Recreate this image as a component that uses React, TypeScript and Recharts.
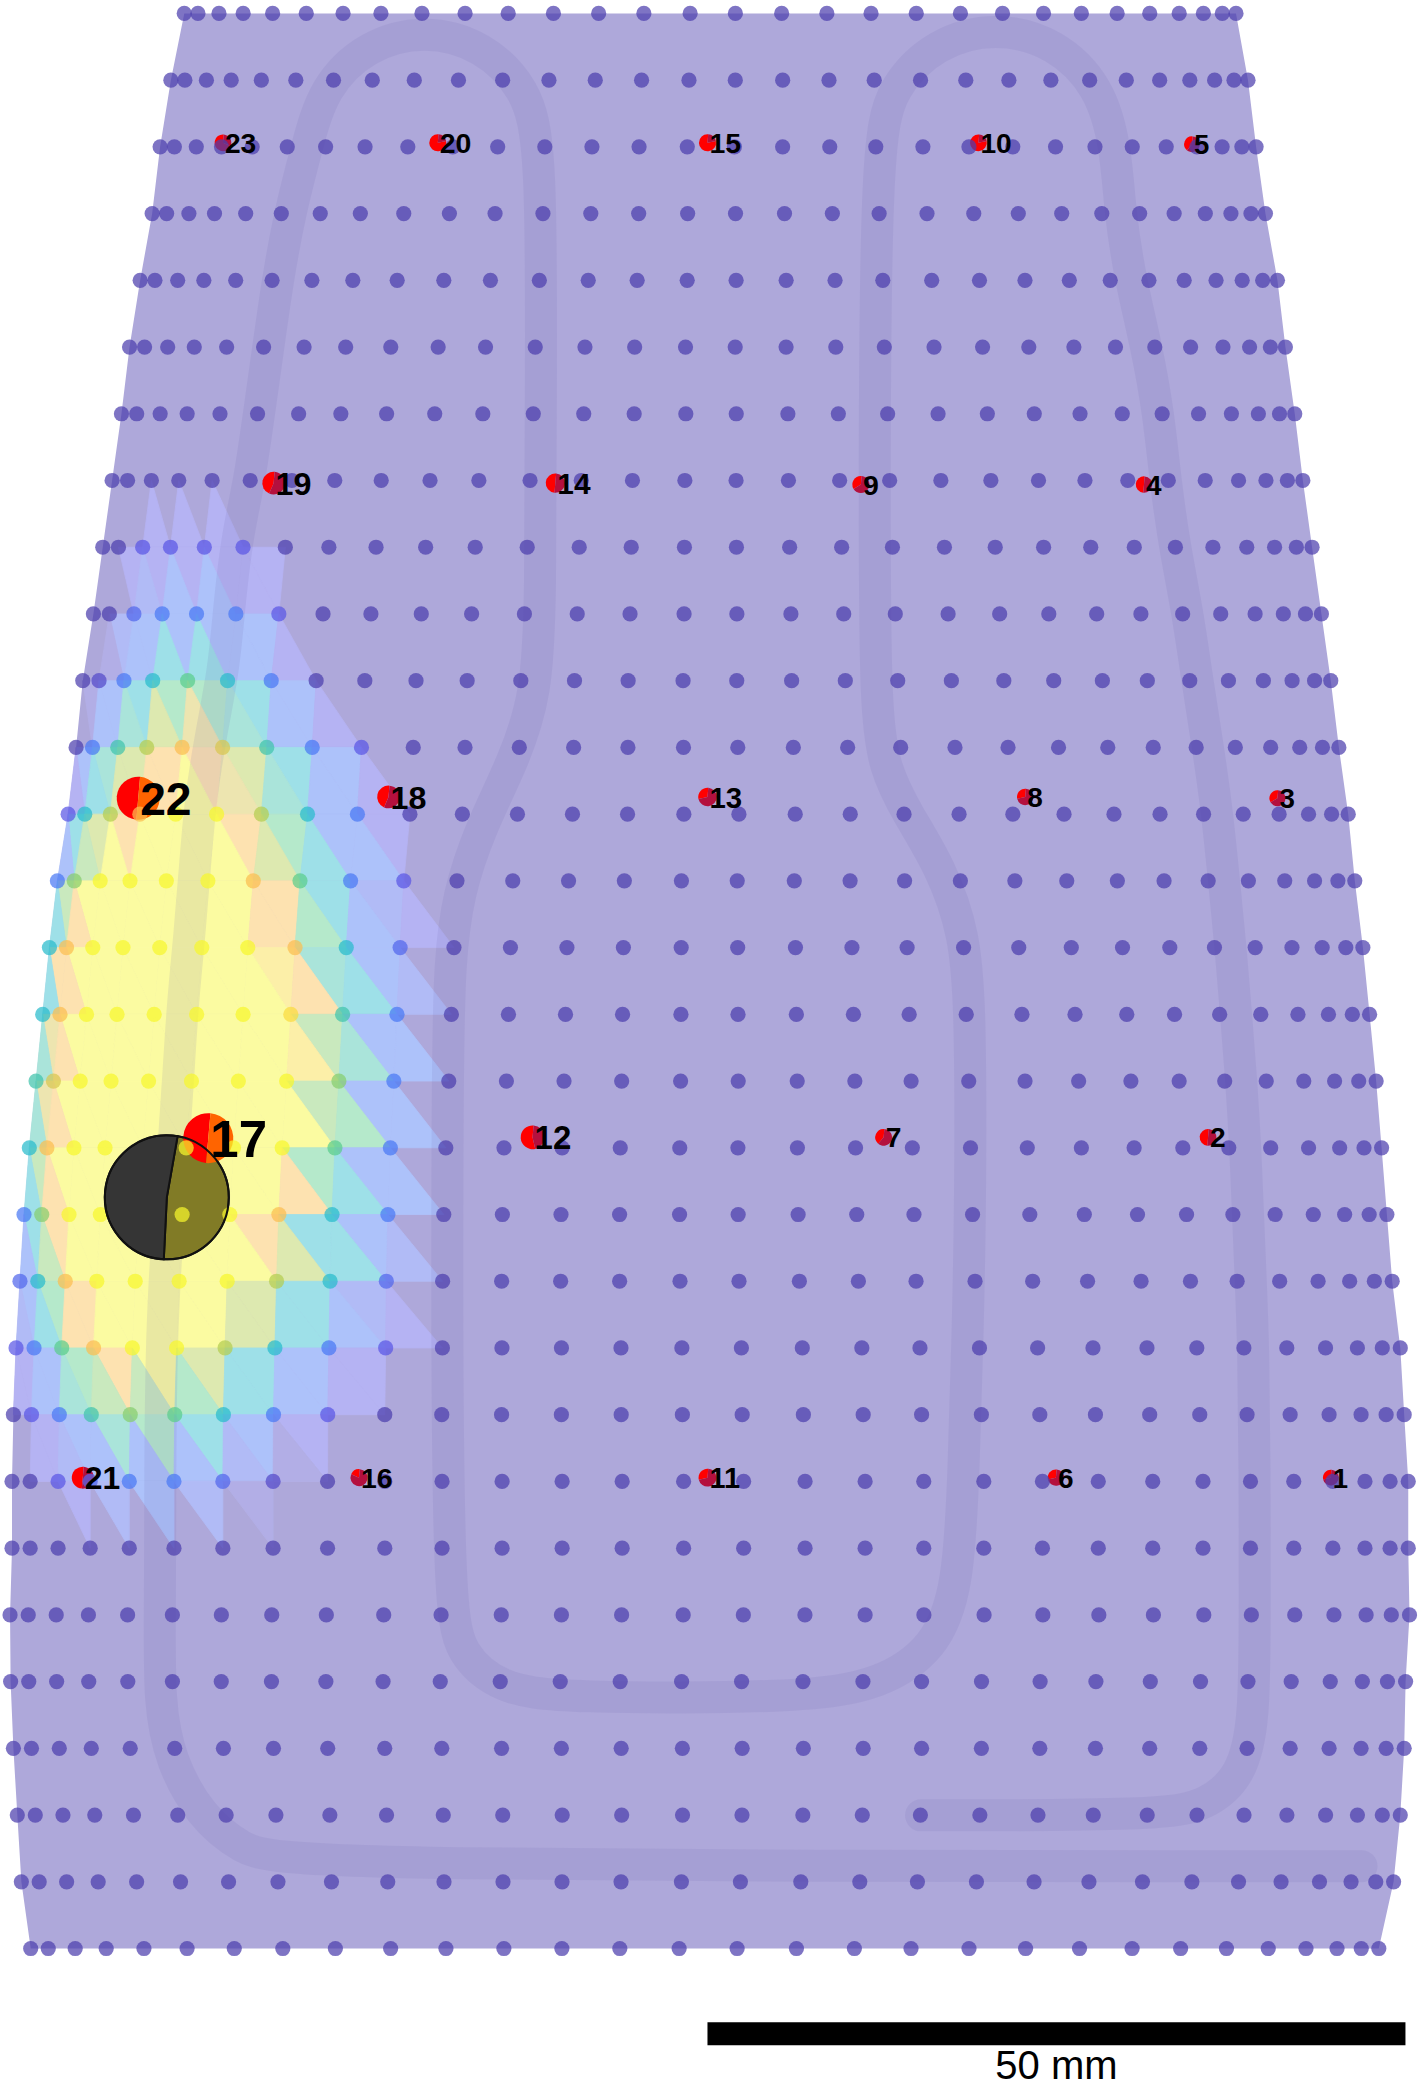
import React from "react";
import { ScatterChart, Scatter, XAxis, YAxis, Sector, Curve } from "recharts";

// picture extent in mm (scale bar = 50 mm)
const X_MAX = 101.65;
const Y_MAX = 149.93;

// mesh rows (mm from top) and their left / right ends
const ROW_Y = [0.96, 5.74, 10.52, 15.3, 20.08, 24.86, 29.64, 34.42, 39.2, 43.98, 48.76, 53.54, 58.32, 63.1, 67.88, 72.66, 77.44, 82.22, 87.0, 91.78, 96.56, 101.34, 106.12, 110.9, 115.68, 120.46, 125.24, 130.02, 134.8, 139.58];
const ROW_LEFT = [13.2, 12.24, 11.47, 10.9, 10.04, 9.28, 8.7, 8.03, 7.36, 6.69, 5.93, 5.45, 4.88, 4.11, 3.54, 3.06, 2.58, 2.1, 1.72, 1.43, 1.15, 0.96, 0.86, 0.86, 0.72, 0.76, 0.96, 1.24, 1.53, 2.2];
const ROW_RIGHT = [88.54, 89.4, 89.98, 90.65, 91.51, 92.08, 92.75, 93.33, 93.99, 94.66, 95.33, 95.91, 96.58, 97.05, 97.63, 98.11, 98.58, 98.97, 99.35, 99.73, 100.31, 100.59, 100.88, 100.88, 100.97, 100.69, 100.59, 100.31, 99.83, 98.77];
// node position along each row (graded towards the edges)
const COL_FRAC = [0, 0.013, 0.033, 0.056, 0.084, 0.116, 0.151, 0.187, 0.226, 0.267, 0.308, 0.351, 0.394, 0.437, 0.481, 0.524, 0.568, 0.611, 0.653, 0.696, 0.738, 0.778, 0.817, 0.853, 0.887, 0.918, 0.946, 0.969, 0.987, 1];

// heat level per node, rows 7..23, columns 0..10 (everything else is 0)
const HEAT_FIRST_ROW = 7;
const HEAT = [
  [0, 0, 0, 0, 0, 0, 0, 0, 0, 0, 0],
  [0, 0, 1, 1, 1, 1, 0, 0, 0, 0, 0],
  [0, 0, 1.5, 2, 2, 2, 1, 0, 0, 0, 0],
  [0, 0.5, 2, 3, 4, 3, 2, 0, 0, 0, 0],
  [0, 2, 3.5, 5, 6, 5.5, 3.5, 2, 1, 0, 0],
  [1, 3, 5, 6, 7, 7, 5, 3, 2, 0, 0],
  [2, 4.5, 7, 7, 7, 7, 6, 4, 2, 1, 0],
  [3, 6, 7, 7, 7, 7, 7, 6, 3, 1.5, 0],
  [3, 6, 7, 7, 7, 7, 7, 6.5, 3.5, 2, 0],
  [3.5, 5.5, 7, 7, 7, 7, 7, 7, 4.5, 2, 0],
  [3, 6, 7, 7, 7, 7, 7, 7, 4, 2, 0],
  [2, 4.5, 7, 7, 7, 7, 7, 6, 3, 2, 0],
  [1.5, 3, 6, 7, 7, 7, 7, 5, 3, 1.5, 0],
  [1, 2, 4, 6, 7, 7, 5, 3, 2, 1, 0],
  [0, 1, 2, 3.5, 4.5, 4, 3, 2, 1, 0, 0],
  [0, 0, 1, 1.5, 2, 2, 1.5, 0.5, 0, 0, 0],
  [0, 0, 0, 0, 0, 0, 0, 0, 0, 0, 0],
];

// cooling tube centre line (mm), from the lower inlet round to the outlet
const TUBE = [
  [97.53, 133.68], [20.75, 133.68], [17.21, 132.43], [14.34, 130.04], [12.24, 126.22], [11.38, 122.11],
  [11.47, 114.74], [11.47, 105.18], [11.57, 95.62], [11.95, 88.93], [12.43, 82.23], [12.81, 76.5],
  [13.1, 71.72], [13.58, 66.93], [13.96, 62.15], [14.34, 57.37], [15.11, 52.59], [16.06, 47.81],
  [16.45, 43.03], [17.02, 38.25], [17.88, 34.42], [18.55, 29.64], [19.22, 24.86], [19.89, 20.08],
  [20.75, 15.3], [21.99, 10.52], [23.14, 6.31], [26.2, 3.25], [30.41, 2.1], [34.61, 3.25],
  [37.67, 6.31], [38.82, 10.52], [38.73, 28.69], [38.73, 43.03], [38.44, 49.72], [36.81, 54.5],
  [34.42, 59.28], [32.8, 64.07], [32.22, 68.85], [32.03, 76.5], [32.03, 114.74], [32.99, 118.57],
  [35.86, 120.96], [40.16, 121.63], [57.37, 121.63], [63.11, 120.67], [66.93, 118.09], [68.66, 113.79],
  [69.04, 105.18], [69.32, 95.62], [69.52, 86.06], [69.52, 72.67], [69.13, 66.93], [67.41, 62.15],
  [65.02, 58.33], [63.3, 54.98], [62.73, 50.68], [62.63, 38.25], [62.73, 10.52], [63.87, 6.22],
  [67.03, 3.06], [71.33, 1.91], [75.64, 3.06], [78.79, 6.22], [79.94, 10.52], [80.23, 15.3],
  [80.99, 20.08], [82.14, 24.86], [83.0, 29.64], [83.48, 34.42], [84.15, 39.2], [85.1, 43.99],
  [85.77, 48.77], [86.54, 53.55], [87.21, 58.33], [87.68, 63.11], [88.16, 67.89], [88.54, 72.67],
  [88.93, 77.45], [89.21, 82.23], [89.4, 87.01], [89.6, 91.8], [89.79, 96.58], [89.88, 105.18],
  [89.88, 114.74], [89.88, 123.35], [88.93, 127.17], [86.54, 129.28], [83.19, 130.04], [65.98, 130.04],
];

// sensors 1..23
const SENSOR_ID = [1, 2, 3, 4, 5, 6, 7, 8, 9, 10, 11, 12, 13, 14, 15, 16, 17, 18, 19, 20, 21, 22, 23];
const SENSOR_X = [95.33, 86.54, 91.51, 81.95, 85.39, 75.64, 63.3, 73.44, 61.67, 70.09, 50.68, 38.15, 50.68, 39.78, 50.68, 25.72, 14.92, 27.83, 19.6, 31.36, 5.93, 9.9, 15.97];
const SENSOR_Y = [105.85, 81.47, 57.18, 34.71, 10.33, 105.85, 81.47, 57.09, 34.71, 10.23, 105.85, 81.47, 57.09, 34.61, 10.23, 105.85, 81.53, 57.09, 34.61, 10.23, 105.85, 57.18, 10.23];
const SENSOR_SIGNAL = [0.02, 0.05, 0.03, 0.04, 0.02, 0.04, 0.05, 0.04, 0.06, 0.05, 0.08, 0.25, 0.1, 0.12, 0.06, 0.06, 1, 0.22, 0.22, 0.06, 0.2, 0.8, 0.05];
const SENSOR_RED = [0.3, 0.5, 0.35, 0.5, 0.4, 0.3, 0.4, 0.3, 0.35, 0.8, 0.3, 0.55, 0.3, 0.5, 0.8, 0.2, 0.5, 0.45, 0.45, 0.8, 0.5, 0.5, 0.7];

// located source estimate
const SOURCE_X = [11.95];
const SOURCE_Y = [85.77];
const SOURCE_SHARE = [52, 48];

// scale bar
const BAR_X = [50.68, 100.68];
const BAR_Y = [145.68, 145.68];
const BAR_LABEL = "50 mm";
const BAR_LABEL_Y = 148.9;

// colour ramp: purple, indigo, blue, cyan, green, khaki, orange, yellow
const RAMP = [
  [76, 62, 173], [90, 86, 228], [73, 120, 244], [40, 187, 204],
  [90, 205, 140], [180, 205, 80], [251, 190, 80], [247, 247, 45],
];
const ramp = (v: number) => {
  const i = Math.max(0, Math.min(RAMP.length - 1.001, v));
  const a = Math.floor(i);
  const t = i - a;
  return RAMP[a].map((c, k) => c + (RAMP[a + 1][k] - c) * t);
};
const rgb = (c: number[]) => `rgb(${c.map((x) => Math.round(x)).join(",")})`;
const surface = (v: number) => rgb(ramp(v).map((c) => c * 0.45 + 255 * 0.55));

const COLS = COL_FRAC.length;
const nodes = ROW_Y.flatMap((y, r) =>
  COL_FRAC.map((f, c) => ({
    x: ROW_LEFT[r] + f * (ROW_RIGHT[r] - ROW_LEFT[r]),
    y,
    h: HEAT[r - HEAT_FIRST_ROW]?.[c] ?? 0,
  }))
);
const outline = [
  ...ROW_Y.map((y, r) => ({ x: ROW_LEFT[r], y })),
  ...ROW_Y.map((y, r) => ({ x: ROW_RIGHT[r], y })).reverse(),
];
const tube = TUBE.map(([x, y]) => ({ x, y }));
const sensors = SENSOR_ID.map((id, i) => ({
  id,
  x: SENSOR_X[i],
  y: SENSOR_Y[i],
  signal: SENSOR_SIGNAL[i],
  red: SENSOR_RED[i],
}));
const source = SOURCE_X.map((x, i) => ({ x, y: SOURCE_Y[i] }));
const bar = BAR_X.map((x, i) => ({ x, y: BAR_Y[i] }));
const barLabel = [{ x: (BAR_X[0] + BAR_X[1]) / 2, y: BAR_LABEL_Y, text: BAR_LABEL }];

const FONT = "'Liberation Sans', Arial, Helvetica, sans-serif";
const none = () => <g />;

const drawOutline = (p: any) => (
  <polygon points={p.points.map((q: any) => `${q.x},${q.y}`).join(" ")} fill={surface(0)} />
);

const median3 = (a: number, b: number, c: number) => Math.max(Math.min(a, b), Math.min(Math.max(a, b), c));

const drawHeat = (p: any) => {
  const pts = p.points;
  const out: React.ReactNode[] = [];
  for (let r = 0; r < ROW_Y.length - 1; r++) {
    for (let c = 0; c < COLS - 1; c++) {
      const tl = r * COLS + c;
      const tris = [
        [tl, tl + 1, tl + COLS + 1],
        [tl, tl + COLS, tl + COLS + 1],
      ];
      tris.forEach((t, k) => {
        const v = median3(nodes[t[0]].h, nodes[t[1]].h, nodes[t[2]].h);
        if (v <= 0) return;
        const col = surface(v);
        out.push(
          <polygon
            key={`${tl}-${k}`}
            points={t.map((i) => `${pts[i].x},${pts[i].y}`).join(" ")}
            fill={col}
            stroke={col}
            strokeWidth={0.8}
          />
        );
      });
    }
  }
  return <g>{out}</g>;
};

const drawTube = (p: any) => (
  <Curve
    points={p.points}
    type="basis"
    fill="none"
    stroke="rgb(105,95,170)"
    strokeOpacity={0.12}
    strokeWidth={32}
    strokeLinecap="round"
    strokeLinejoin="round"
  />
);

const drawMarker = (p: any) => {
  const { cx, cy, payload } = p;
  const r = 7.5 + 17.5 * payload.signal;
  const split = 85 + 360 * payload.red;
  return (
    <g>
      <Sector cx={cx} cy={cy} innerRadius={0} outerRadius={r} startAngle={85} endAngle={split} fill="#ff0000" />
      <Sector
        cx={cx}
        cy={cy}
        innerRadius={0}
        outerRadius={r}
        startAngle={split}
        endAngle={445}
        fill={payload.signal > 0.5 ? "#ff6400" : "#b4103e"}
      />
    </g>
  );
};

const drawDot = (p: any) => (
  <circle cx={p.cx} cy={p.cy} r={7.6} fill={rgb(ramp(p.payload.h))} fillOpacity={0.72} />
);

const total = SOURCE_SHARE[0] + SOURCE_SHARE[1];
const darkEnd = 80 + (360 * SOURCE_SHARE[0]) / total;
const drawSourceLight = (p: any) => (
  <Sector cx={p.cx} cy={p.cy} innerRadius={0} outerRadius={62} startAngle={darkEnd} endAngle={440} fill="#817b26" stroke="#111" strokeWidth={2} />
);
const drawSourceDark = (p: any) => (
  <g>
    <Sector cx={p.cx} cy={p.cy} innerRadius={0} outerRadius={62} startAngle={80} endAngle={darkEnd} fill="#353535" stroke="#111" strokeWidth={2} />
    <circle cx={p.cx} cy={p.cy} r={62} fill="none" stroke="#111" strokeWidth={2} />
  </g>
);

const drawLabel = (p: any) => {
  const { cx, cy, payload } = p;
  const fs = 27 + 24 * payload.signal;
  return (
    <text x={cx + 2} y={cy + fs * 0.36} fontSize={fs} fontWeight="bold" fontFamily={FONT} fill="#000">
      {payload.id}
    </text>
  );
};

const drawBar = (p: any) => (
  <line x1={p.points[0].x} y1={p.points[0].y} x2={p.points[1].x} y2={p.points[1].y} stroke="#000" strokeWidth={23} />
);

const drawBarLabel = (p: any) => (
  <text x={p.cx} y={p.cy} textAnchor="middle" fontSize={40} fontFamily={FONT} fill="#000">
    {p.payload.text}
  </text>
);

export default function App() {
  return (
    <div style={{ position: "absolute", left: 0, top: 0, width: 1419, height: 2093, background: "#fff" }}>
      <ScatterChart width={1419} height={2093} margin={{ top: 0, right: 0, bottom: 0, left: 0 }}>
        <XAxis type="number" dataKey="x" domain={[0, X_MAX]} allowDataOverflow hide />
        <YAxis type="number" dataKey="y" domain={[0, Y_MAX]} allowDataOverflow reversed hide />
        <Scatter data={outline} shape={none} line={drawOutline} isAnimationActive={false} />
        <Scatter data={nodes} shape={none} line={drawHeat} isAnimationActive={false} />
        <Scatter data={tube} shape={none} line={drawTube} isAnimationActive={false} />
        <Scatter data={source} shape={drawSourceLight} isAnimationActive={false} />
        <Scatter data={sensors} shape={drawMarker} isAnimationActive={false} />
        <Scatter data={nodes} shape={drawDot} isAnimationActive={false} />
        <Scatter data={source} shape={drawSourceDark} isAnimationActive={false} />
        <Scatter data={sensors} shape={drawLabel} isAnimationActive={false} />
        <Scatter data={bar} shape={none} line={drawBar} isAnimationActive={false} />
        <Scatter data={barLabel} shape={drawBarLabel} isAnimationActive={false} />
      </ScatterChart>
    </div>
  );
}
